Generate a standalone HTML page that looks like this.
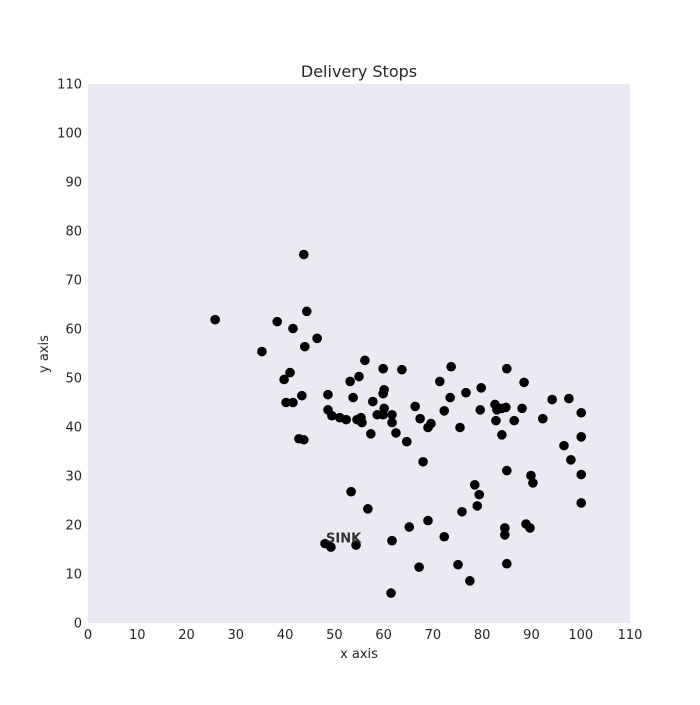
<!DOCTYPE html>
<html><head><meta charset="utf-8"><style>
body{margin:0;background:#fff;}
svg text{font-family:"DejaVu Sans","Liberation Sans",sans-serif;fill:#262626;}
</style></head><body>
<svg id="chart" width="700" height="700" xmlns="http://www.w3.org/2000/svg">
<rect x="0" y="0" width="700" height="700" fill="#fff"/>
<rect x="88" y="84" width="542" height="539" fill="#EAEAF2"/>
<text x="359" y="77" text-anchor="middle" font-size="16">Delivery Stops</text>
<text x="359" y="658" text-anchor="middle" font-size="13">x axis</text>
<text x="48" y="354" text-anchor="middle" font-size="13" transform="rotate(-90 48 354)">y axis</text>
<g id="xticks"></g>
<g id="yticks"></g>
<g id="points"></g>
<text id="sink" font-size="13" font-weight="bold" fill="#333" style="fill:#333">SINK</text>
</svg>
<script>
const xTicks=[0,10,20,30,40,50,60,70,80,90,100,110];
const yTicks=[0,10,20,30,40,50,60,70,80,90,100,110];
const xs=[25.8,43.8,38.4,41.6,44.4,35.3,46.5,44.0,41.0,39.8,43.4,40.2,41.6,42.8,43.8,48.7,48.7,49.5,51.1,52.4,53.2,53.8,55.0,56.2,54.6,55.4,55.6,57.4,57.8,58.7,59.9,60.1,59.9,59.9,60.1,61.7,62.5,63.7,61.7,64.7,66.4,67.4,69.0,69.6,68.0,71.4,72.3,73.5,73.7,75.5,76.7,79.8,79.6,82.6,82.8,83.0,84.0,84.8,84.0,85.0,86.5,88.1,88.5,92.3,94.2,97.6,96.6,98.0,100.1,100.1,89.9,90.3,85.0,78.5,79.4,79.0,75.9,84.6,84.6,88.9,89.7,69.0,65.2,56.8,53.4,48.1,49.3,54.4,61.7,72.3,75.1,77.5,67.2,85.0,61.5,100.1,100.1];
const ys=[61.9,75.2,61.5,60.1,63.6,55.4,58.1,56.4,51.1,49.7,46.4,45.0,45.0,37.6,37.4,46.6,43.5,42.3,41.9,41.5,49.3,46.0,50.3,53.6,41.5,41.9,40.9,38.6,45.2,42.5,42.5,43.8,51.9,46.8,47.6,42.5,38.8,51.7,40.9,37.0,44.2,41.7,39.9,40.7,32.9,49.3,43.3,46.0,52.3,39.9,47.0,48.0,43.5,44.6,41.3,43.5,43.8,44.0,38.4,51.9,41.3,43.8,49.1,41.7,45.6,45.8,36.2,33.3,42.9,38.0,30.1,28.6,31.1,28.2,26.2,23.9,22.7,19.4,18.0,20.2,19.4,20.9,19.6,23.3,26.8,16.2,15.5,15.9,16.8,17.6,11.9,8.6,11.4,12.1,6.1,30.3,24.5];
const sinkPos=[48.1,16.2];
const X0=88,X1=630,Y0=623,Y1=84,XMAX=110,YMAX=110;
function sx(v){return X0+(X1-X0)*v/XMAX;}
function sy(v){return Y0-(Y0-Y1)*v/YMAX;}
const NS='http://www.w3.org/2000/svg';
const xg=document.getElementById('xticks'),yg=document.getElementById('yticks'),pg=document.getElementById('points');
xTicks.forEach(t=>{const e=document.createElementNS(NS,'text');


e.setAttribute('x',sx(t));e.setAttribute('y',639);e.setAttribute('text-anchor','middle');e.setAttribute('font-size','13');e.textContent=t;xg.appendChild(e);});
yTicks.forEach(t=>{const e=document.createElementNS(NS,'text');


e.setAttribute('x',82);e.setAttribute('y',sy(t)+4.5);e.setAttribute('text-anchor','end');e.setAttribute('font-size','13');e.textContent=t;yg.appendChild(e);});
xs.forEach((v,i)=>{const c=document.createElementNS(NS,'circle');


c.setAttribute('cx',sx(v));c.setAttribute('cy',sy(ys[i]));c.setAttribute('r',4.8);c.setAttribute('fill','#000');pg.appendChild(c);});
const s=document.getElementById('sink');
s.setAttribute('x',sx(sinkPos[0])+1);s.setAttribute('y',sy(sinkPos[1])-1);
</script>
</body></html>
